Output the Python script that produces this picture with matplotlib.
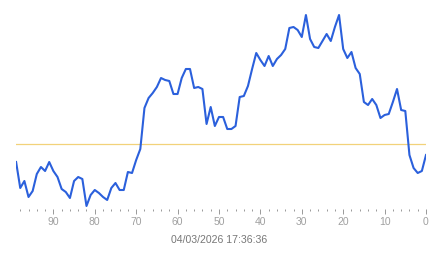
import numpy as np
import matplotlib
matplotlib.use('Agg')
import matplotlib.pyplot as plt
from matplotlib.ticker import MultipleLocator

# seconds ago (x axis, reversed) and readings
seconds_ago = np.arange(99, -1, -1)
readings = [58, 32, 39, 23, 29, 46, 53, 49, 58, 49,
            43, 31, 28, 22, 39, 43, 41, 14, 25, 30,
            27, 23, 20, 32, 37, 30, 30, 48, 47, 60,
            71, 112, 122, 127, 133, 142, 140, 139, 126, 126,
            142, 151, 151, 132, 133, 131, 96, 113, 94, 103,
            103, 91, 91, 94, 123, 124, 134, 151, 167, 160,
            154, 164, 154, 161, 165, 171, 192, 193, 190, 183,
            205, 181, 173, 172, 179, 186, 179, 193, 205, 171,
            162, 168, 152, 146, 118, 115, 121, 115, 102, 105,
            106, 118, 131, 110, 109, 65, 52, 47, 49, 65]
threshold = 76
timestamp = '04/03/2026 17:36:36'

plt.rcParams['font.family'] = ['Liberation Sans', 'DejaVu Sans']

W, H = 443, 258
fig = plt.figure(figsize=(W / 100, H / 100), dpi=100)
left, right = 16.1, 426.0
bottom_px, top_px = 209, 0
ax = fig.add_axes([left / W, (H - bottom_px) / H, (right - left) / W, (bottom_px - top_px) / H])

ax.axhline(threshold, color='#f2d27a', lw=0.9, zorder=1)
ax.plot(seconds_ago, readings, color='#2b60dc', lw=1.5, solid_joinstyle='round', zorder=2)

ax.set_xlim(99, 0)
ax.set_ylim(11, 220)
ax.xaxis.set_major_locator(MultipleLocator(10))
ax.xaxis.set_minor_locator(MultipleLocator(2))
ax.tick_params(axis='x', which='major', length=3.6, width=0.7, color='#999999',
               labelsize=7.5, labelcolor='#a0a0a0', pad=2)
ax.tick_params(axis='x', which='minor', length=1.4, width=0.7, color='#999999')
ax.set_yticks([])
for s in ax.spines.values():
    s.set_visible(False)
ax.patch.set_visible(False)

fig.text(219.5 / W, 1 - 240 / H, timestamp, ha='center', va='center',
         fontsize=7.6, color='#777777')

fig.savefig('out.png', dpi=100)
